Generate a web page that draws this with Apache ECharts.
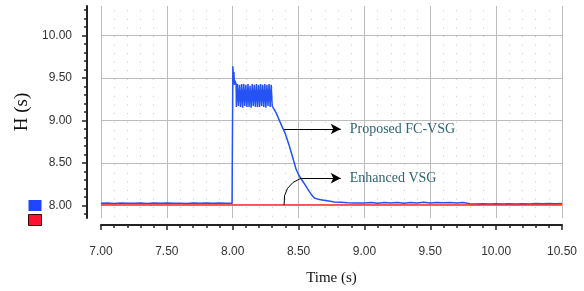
<!DOCTYPE html>
<html>
<head>
<meta charset="utf-8">
<script src="https://cdn.jsdelivr.net/npm/echarts@6/dist/echarts.min.js"></script>
<style>
  html, body { margin: 0; padding: 0; background: #fff; }
  #chart { width: 584px; height: 291px; }
</style>
</head>
<body>
<div id="chart"></div>
<script>
// H (s) over time, two controllers
const yMajorTicks = [8.0, 8.5, 9.0, 9.5, 10.0];
const yMinorTicks = [7.9, 8.1, 8.2, 8.3, 8.4, 8.6, 8.7, 8.8, 8.9, 9.1, 9.2, 9.3, 9.4, 9.6, 9.7, 9.8, 9.9, 10.1, 10.2, 10.3];

const fcTime = [
  7.00, 7.05, 7.10, 7.15, 7.20, 7.25, 7.30, 7.35, 7.40, 7.45, 7.50, 7.55, 7.60, 7.65, 7.70, 7.75, 7.80, 7.85, 7.90, 7.95, 7.995,
  8.000, 8.001, 8.005, 8.009, 8.013, 8.016,
  8.020, 8.026, 8.028, 8.034, 8.036, 8.042, 8.044, 8.050, 8.052, 8.058, 8.060, 8.066, 8.068, 8.074, 8.076, 8.082,
  8.084, 8.090, 8.092, 8.098, 8.100, 8.106, 8.108, 8.114, 8.116, 8.122, 8.124, 8.130, 8.132, 8.138, 8.140, 8.146,
  8.148, 8.154, 8.156, 8.162, 8.164, 8.170, 8.172, 8.178, 8.180, 8.186, 8.188, 8.194, 8.196, 8.202, 8.204, 8.210,
  8.212, 8.218, 8.220, 8.226, 8.228, 8.234, 8.236, 8.242, 8.244, 8.250, 8.252, 8.258, 8.260, 8.266, 8.268, 8.274,
  8.276, 8.282, 8.284, 8.290, 8.292, 8.298, 8.300, 8.306, 8.308, 8.312,
  8.33, 8.36, 8.38, 8.40, 8.43, 8.46, 8.48, 8.50, 8.52, 8.55, 8.57, 8.60, 8.62, 8.65, 8.69, 8.73, 8.77, 8.82, 8.87, 8.92,
  9.00, 9.05, 9.10, 9.15, 9.20, 9.25, 9.30, 9.35, 9.40, 9.45, 9.50, 9.55, 9.60, 9.65, 9.70, 9.75,
  9.80, 9.85, 9.90, 9.95, 10.00, 10.05, 10.10, 10.15, 10.20, 10.25, 10.30, 10.35, 10.40, 10.45, 10.50
];
const fcValue = [
  8.024, 8.026, 8.022, 8.027, 8.023, 8.025, 8.028, 8.022, 8.026, 8.024, 8.027, 8.023, 8.025, 8.022, 8.028, 8.024, 8.026, 8.023, 8.027, 8.025, 8.024,
  8.022, 9.64, 9.50, 9.57, 9.42, 9.47,
  9.45, 9.43, 9.16, 9.16, 9.43, 9.43, 9.17, 9.17, 9.42, 9.42, 9.16, 9.16, 9.43, 9.43, 9.15, 9.15,
  9.43, 9.43, 9.17, 9.17, 9.42, 9.42, 9.16, 9.16, 9.43, 9.43, 9.16, 9.16, 9.41, 9.41, 9.15, 9.15,
  9.43, 9.43, 9.17, 9.17, 9.42, 9.42, 9.16, 9.16, 9.43, 9.43, 9.16, 9.16, 9.42, 9.42, 9.16, 9.16,
  9.43, 9.43, 9.17, 9.17, 9.42, 9.42, 9.16, 9.16, 9.43, 9.43, 9.15, 9.15, 9.42, 9.42, 9.17, 9.17,
  9.43, 9.43, 9.16, 9.16, 9.42, 9.42, 9.17, 9.17, 9.16, 9.15,
  9.09, 8.98, 8.91, 8.84, 8.70, 8.54, 8.43, 8.36, 8.31, 8.24, 8.19, 8.12, 8.085, 8.07, 8.06, 8.05, 8.04, 8.035, 8.03, 8.028,
  8.026, 8.032, 8.024, 8.034, 8.027, 8.033, 8.025, 8.034, 8.028, 8.035, 8.026, 8.033, 8.029, 8.034, 8.027, 8.032,
  8.018, 8.016, 8.019, 8.015, 8.017, 8.014, 8.018, 8.015, 8.019, 8.016, 8.020, 8.018, 8.021, 8.019, 8.022
];

const enhTime = [7.00, 8.00, 9.00, 10.00, 10.50];
const enhValue = [8.004, 8.004, 8.004, 8.004, 8.004];

// annotation anchors (data coords)
const fcArrow = [[8.39, 8.90], [8.82, 8.90]];
const enhCurve = [[8.39, 8.004], [8.52, 8.32]];
const enhArrow = [[8.52, 8.32], [8.82, 8.32]];

const zip = (xs, ys) => xs.map((x, i) => [x, ys[i]]);

const tickFont = { fontFamily: 'Liberation Sans', fontSize: 12, color: '#333' };
const noteLabel = (text) => ({
  show: true,
  position: 'end',
  distance: 9,
  formatter: text,
  fontFamily: 'Liberation Serif',
  fontSize: 14,
  color: '#2f6373',
});

const chart = echarts.init(document.getElementById('chart'), null, { renderer: 'canvas' });

chart.setOption({
  animation: false,
  backgroundColor: '#fff',
  grid: { left: 101, right: 22, top: 6, bottom: 71 },
  legend: {
    orient: 'vertical',
    left: 23,
    top: 195,
    itemWidth: 13,
    itemHeight: 11,
    itemGap: 3,
    icon: 'rect',
    formatter: () => '',
    selectedMode: false,
    data: [
      { name: 'Proposed FC-VSG', itemStyle: { color: '#1f45ff' } },
      { name: 'Enhanced VSG', itemStyle: { color: '#ff1030', borderColor: '#3a0000', borderWidth: 1 } },
    ],
  },
  xAxis: {
    type: 'value',
    min: 7,
    max: 10.5,
    interval: 0.5,
    offset: 7,
    name: 'Time (s)',
    nameLocation: 'middle',
    nameGap: 46,
    nameTextStyle: { fontFamily: 'Liberation Serif', fontSize: 15, color: '#111' },
    axisLine: { show: true, lineStyle: { color: '#222', width: 2 } },
    axisTick: { show: true, length: 5, lineStyle: { color: '#222', width: 1.5 } },
    minorTick: { show: true, splitNumber: 5, length: 3, lineStyle: { color: '#222', width: 1.5 } },
    axisLabel: Object.assign({ margin: 21, formatter: (v) => v.toFixed(2) }, tickFont),
    splitLine: { show: true, lineStyle: { color: '#bdbdbd', width: 1 } },
    minorSplitLine: { show: true, lineStyle: { color: '#c8c8c8', width: 1, type: [1, 7.56], dashOffset: 4.3 } },
  },
  yAxis: [
    {
      type: 'value',
      min: 7.85,
      max: 10.35,
      offset: 14,
      name: 'H (s)',
      nameLocation: 'middle',
      nameGap: 53,
      nameRotate: 90,
      nameTextStyle: { fontFamily: 'Liberation Serif', fontSize: 19, color: '#111' },
      axisLine: { show: true, lineStyle: { color: '#222', width: 2 } },
      axisTick: { show: true, length: 5, customValues: yMajorTicks, lineStyle: { color: '#222', width: 1.5 } },
      axisLabel: Object.assign({ margin: 15, customValues: yMajorTicks, formatter: (v) => v.toFixed(2) }, tickFont),
      splitLine: { show: true, lineStyle: { color: '#bdbdbd', width: 1 } },
    },
    {
      type: 'value',
      min: 7.85,
      max: 10.35,
      offset: 14,
      position: 'left',
      axisLine: { show: false },
      axisTick: { show: true, length: 3, customValues: yMinorTicks, lineStyle: { color: '#222', width: 1.5 } },
      axisLabel: { show: false },
      splitLine: { show: false },
    },
  ],
  series: [
    {
      name: 'Proposed FC-VSG',
      type: 'line',
      data: zip(fcTime, fcValue),
      showSymbol: false,
      symbol: 'none',
      lineStyle: { color: '#2552f2', width: 1.5 },
      itemStyle: { color: '#1f45ff' },
      z: 3,
      markLine: {
        silent: true,
        symbol: ['none', 'arrow'],
        symbolSize: [8, 10],
        lineStyle: { color: '#000', width: 1, type: 'solid' },
        label: { show: false },
        data: [
          [{ coord: fcArrow[0] }, { coord: fcArrow[1], label: noteLabel('Proposed FC-VSG') }],
          [{ coord: enhArrow[0] }, { coord: enhArrow[1], label: noteLabel('Enhanced VSG') }],
        ],
      },
    },
    {
      name: 'Enhanced VSG',
      type: 'line',
      data: zip(enhTime, enhValue),
      showSymbol: false,
      symbol: 'none',
      lineStyle: { color: '#ff1a1a', width: 1.2 },
      itemStyle: { color: '#ff1030' },
      z: 4,
    },
    {
      // curved leader for the Enhanced VSG note
      type: 'lines',
      coordinateSystem: 'cartesian2d',
      silent: true,
      symbol: 'none',
      lineStyle: { color: '#000', width: 1, curveness: 0.38, opacity: 1 },
      data: [{ coords: enhCurve }],
      z: 5,
    },
  ],
});
</script>
</body>
</html>
